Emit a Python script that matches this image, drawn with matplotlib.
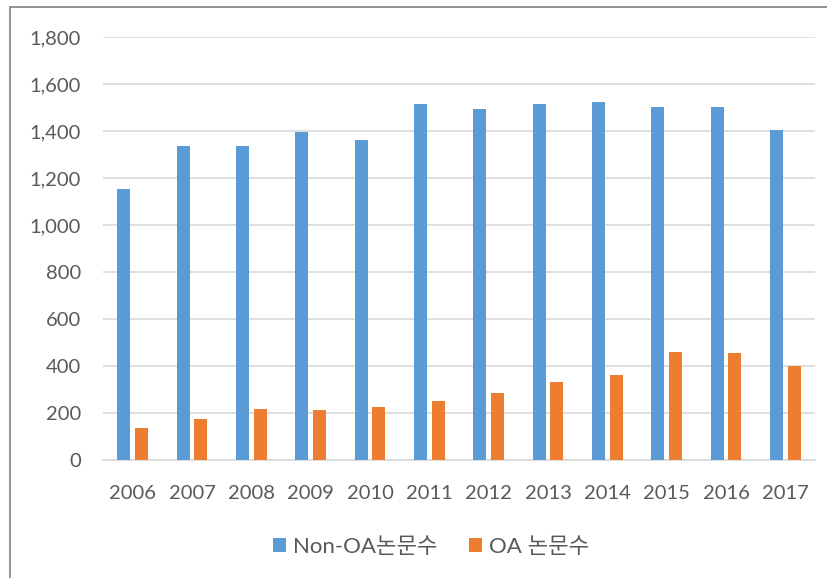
import numpy as np
import matplotlib
matplotlib.use("Agg")
import matplotlib.pyplot as plt
from matplotlib.patches import Rectangle

plt.rcParams['font.family'] = ['Lato', 'Noto Sans CJK KR', 'DejaVu Sans']

years = ["2006", "2007", "2008", "2009", "2010", "2011",
         "2012", "2013", "2014", "2015", "2016", "2017"]
non_oa = [1155, 1337, 1337, 1394, 1362, 1514, 1495, 1514, 1525, 1504, 1504, 1406]
oa = [136, 174, 216, 211, 227, 250, 284, 332, 360, 458, 454, 401]

blue = "#5B9BD5"
orange = "#ED7D31"
txt = "#595959"
grid = "#D9D9D9"

W, H = 828, 578
fig = plt.figure(figsize=(W / 100, H / 100), dpi=100)
ax = fig.add_axes([103 / W, 1 - 460 / H, (815 - 103) / W, (460 - 37) / H])

x = np.arange(len(years))
bw = 0.22
ax.bar(x - 0.15, non_oa, bw, color=blue, label="Non-OA논문수", zorder=3)
ax.bar(x + 0.15, oa, bw, color=orange, label="OA 논문수", zorder=3)

ax.set_xlim(-0.5, len(years) - 0.5)
ax.set_ylim(0, 1800)
ax.set_yticks(range(0, 1801, 200))
ax.set_yticklabels([f"{v:,}" for v in range(0, 1801, 200)])
ax.set_xticks(x)
ax.set_xticklabels(years)
ax.tick_params(length=0, labelsize=14.5, colors=txt)
ax.tick_params(axis='y', pad=16)
ax.tick_params(axis='x', pad=18)
ax.yaxis.grid(True, color=grid, linewidth=1.2, zorder=0)
for s in ["top", "right", "left"]:
    ax.spines[s].set_visible(False)
ax.spines["bottom"].set_color(grid)
ax.spines["bottom"].set_linewidth(1.2)

leg = fig.legend(loc="center", bbox_to_anchor=(431 / W, 1 - 547 / H), ncol=2,
                 frameon=False, fontsize=16, handlelength=0.6, handleheight=0.6,
                 handletextpad=0.3, columnspacing=1.4)
for t in leg.get_texts():
    t.set_color(txt)

fig.patches.append(Rectangle((10 / W, -0.05), 1.1, 1 - 7 / H + 0.05,
                             transform=fig.transFigure, fill=False,
                             edgecolor="#7F7F7F", linewidth=1.2))

fig.savefig("out.png", dpi=100, facecolor="white")
